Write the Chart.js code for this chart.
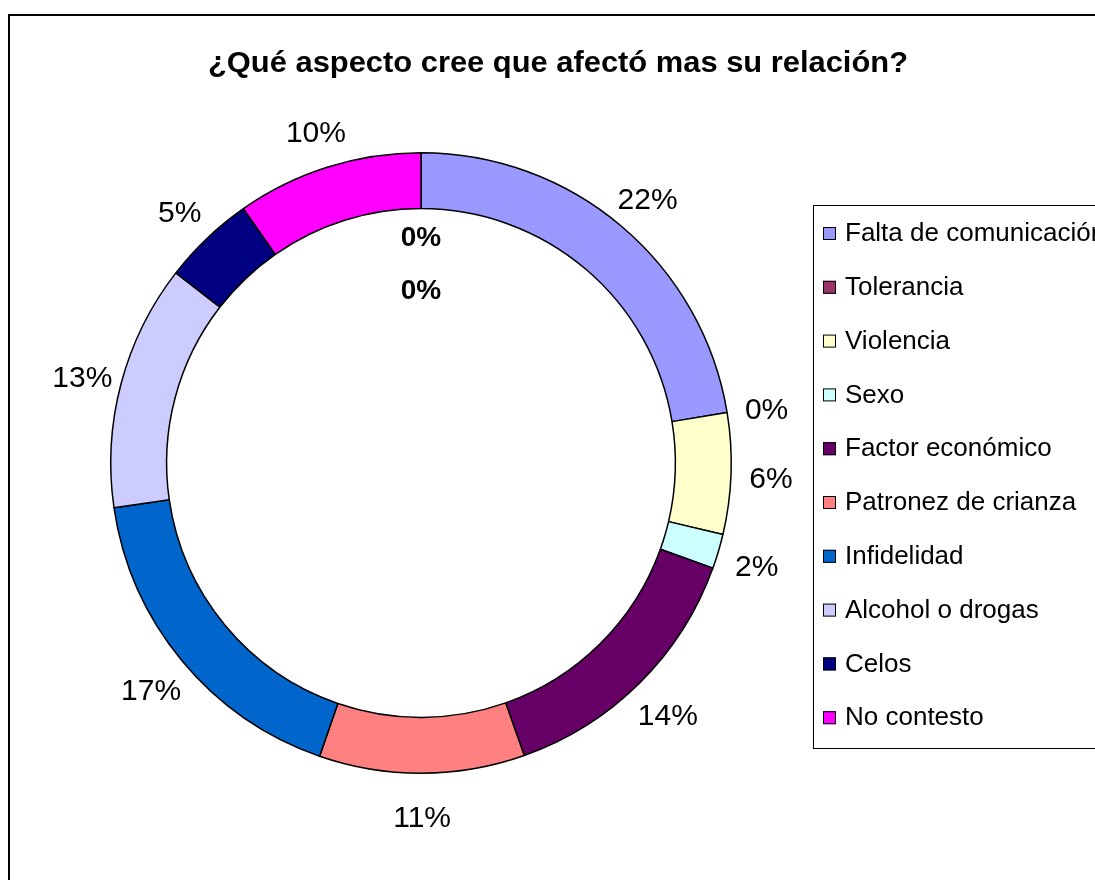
<!DOCTYPE html>
<html>
<head>
<meta charset="utf-8">
<script src="https://cdn.jsdelivr.net/npm/chart.js@4"></script>
<style>
  body { margin: 0; background: #fff; }
  #wrap { width: 1095px; height: 880px; }
</style>
</head>
<body>
<div id="wrap"><canvas id="myChart" width="1095" height="880"></canvas></div>
<script>
// categorias y valores (porcentaje)
const categorias = ['Falta de comunicación', 'Tolerancia', 'Violencia', 'Sexo', 'Factor económico',
  'Patronez de crianza', 'Infidelidad', 'Alcohol o drogas', 'Celos', 'No contesto'];
const valores = [22.4, 0, 6.3, 1.8, 14.1, 10.7, 17.4, 12.8, 4.8, 9.7];
const colores = ['#9999FF', '#993366', '#FFFFCC', '#CCFFFF', '#660066',
  '#FF8080', '#0066CC', '#CCCCFF', '#000080', '#FF00FF'];
// series interiores vacias (solo muestran 0%)
const seriesInternas = [0, 0];
const titulo = '¿Qué aspecto cree que afectó mas su relación?';

const FONT = 'Liberation Sans, Arial, sans-serif';

// marco, titulo, etiquetas y leyenda dibujados a mano
const extras = {
  id: 'extras',
  beforeDraw(chart) {
    const ctx = chart.ctx;
    ctx.save();
    ctx.fillStyle = '#fff';
    ctx.fillRect(0, 0, chart.width, chart.height);
    ctx.strokeStyle = '#000';
    ctx.lineWidth = 2;
    ctx.strokeRect(9, 15, 1200, 1000);
    ctx.restore();
  },
  afterDraw(chart) {
    const ctx = chart.ctx;
    ctx.save();
    ctx.fillStyle = '#000';
    ctx.textAlign = 'center';
    ctx.textBaseline = 'middle';

    // titulo un poco ensanchado como en Excel
    ctx.font = 'bold 29px ' + FONT;
    const tw = ctx.measureText(titulo).width;
    ctx.save();
    ctx.translate(558, 64);
    ctx.scale(700 / tw, 1);
    ctx.fillText(titulo, 0, 0);
    ctx.restore();

    // etiquetas de porcentaje
    const meta = chart.getDatasetMeta(0);
    const total = valores.reduce((a, b) => a + b, 0);
    ctx.font = '30px ' + FONT;
    meta.data.forEach((arc, i) => {
      const p = arc.getProps(['x', 'y', 'startAngle', 'endAngle', 'outerRadius'], true);
      const mid = (p.startAngle + p.endAngle) / 2;
      const r = p.outerRadius + 40;
      const pct = Math.round(valores[i] / total * 100) + '%';
      ctx.fillText(pct, p.x + Math.cos(mid) * r, p.y + Math.sin(mid) * r + 5);
    });

    // 0% de las series interiores
    const cx = meta.data[0].x, cy = meta.data[0].y;
    ctx.font = 'bold 28px ' + FONT;
    seriesInternas.forEach((v, k) => {
      ctx.fillText(v + '%', cx, cy - 225 + k * 53);
    });

    // leyenda
    ctx.lineWidth = 1;
    ctx.strokeStyle = '#000';
    ctx.strokeRect(813.5, 205.5, 400, 543);
    ctx.textAlign = 'left';
    ctx.font = '26px ' + FONT;
    categorias.forEach((c, i) => {
      const y = 233 + i * 53.8;
      ctx.fillStyle = colores[i];
      ctx.fillRect(823, y - 6, 13, 13);
      ctx.strokeStyle = '#000';
      ctx.strokeRect(823.5, y - 5.5, 12, 12);
      ctx.fillStyle = '#000';
      ctx.fillText(c, 845, y + 1);
    });
    ctx.restore();
  }
};

new Chart('myChart', {
  type: 'doughnut',
  data: {
    labels: categorias,
    datasets: [{
      data: valores,
      backgroundColor: colores,
      borderColor: '#000',
      borderWidth: 1.5
    }]
  },
  options: {
    responsive: false,
    animation: false,
    cutout: '82%',
    layout: { padding: { left: 107, right: 360, top: 152, bottom: 106 } },
    plugins: {
      legend: { display: false },
      tooltip: { enabled: false }
    }
  },
  plugins: [extras]
});
</script>
</body>
</html>
